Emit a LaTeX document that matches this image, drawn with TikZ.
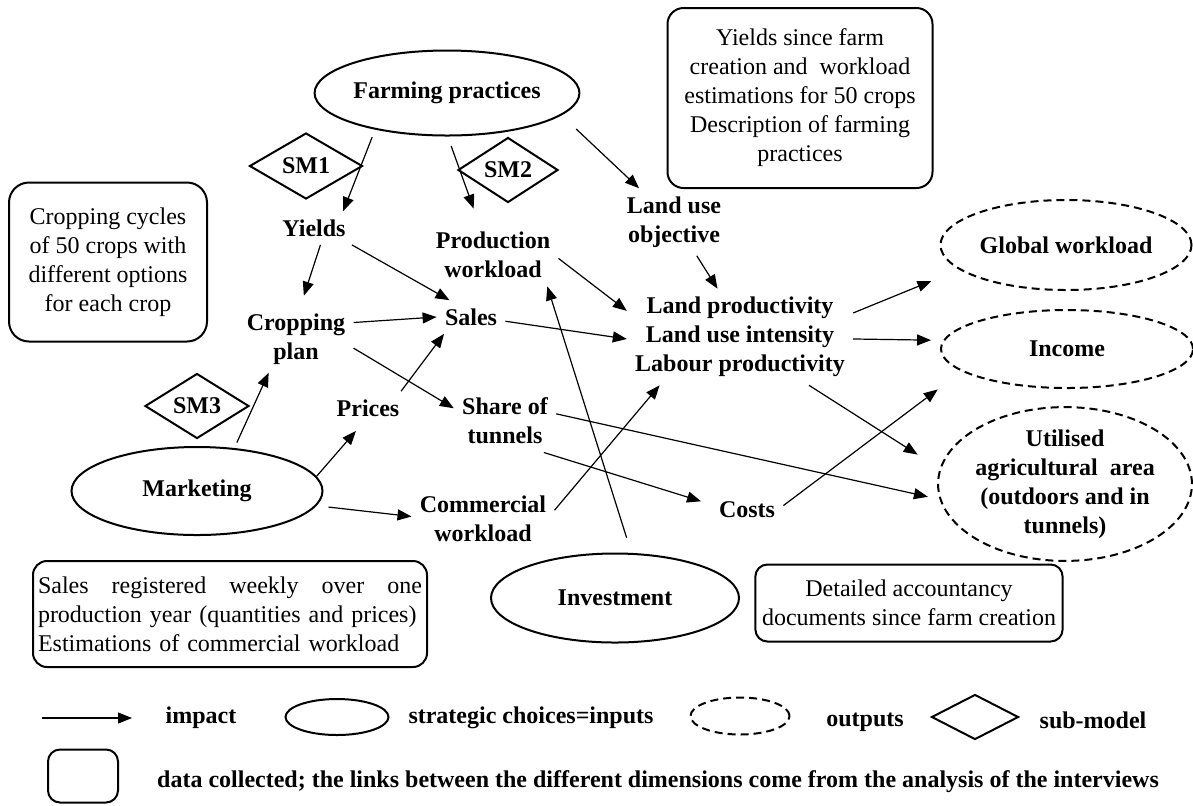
\documentclass[tikz,border=0pt]{standalone}
\usepackage{fontspec}
\setmainfont{Liberation Serif}
\usetikzlibrary{shapes.geometric,arrows.meta}

\begin{document}
\begin{tikzpicture}[x=0.5pt,y=-0.5pt,
	every node/.style={font=\fontsize{12}{14.5}\selectfont},
	lbl/.style={font=\fontsize{12}{14.5}\selectfont\bfseries, align=center, inner sep=4pt},
	choice/.style={ellipse, draw, line width=1pt, inner sep=0pt, font=\fontsize{12}{14.5}\selectfont\bfseries, align=center},
	outp/.style={choice, dash pattern=on 4pt off 2.5pt},
	submod/.style={diamond, draw, line width=1pt, inner sep=0pt, font=\fontsize{12}{14.5}\selectfont\bfseries},
	datab/.style={draw, line width=1pt, rounded corners=8pt, align=center},
	imp/.style={-{Triangle[length=7pt,width=5.5pt]}, line width=0.6pt}]
\useasboundingbox (0,0) rectangle (1193,805);

% strategic choices
\node[choice, minimum width=125pt, minimum height=42.5pt] (farm) at (447,93) {Farming practices};
\node[choice, minimum width=125.5pt, minimum height=44pt] (mkt) at (197,491) {Marketing};
\node[choice, minimum width=124pt, minimum height=44.5pt] (invest) at (615,598) {Investment};

% sub-models
\node[submod, minimum width=56.5pt, minimum height=33pt] (sm1) at (306,166) {SM1};
\node[submod, minimum width=50pt, minimum height=32.5pt] (sm2) at (508,170) {SM2};
\node[submod, minimum width=52pt, minimum height=32.5pt] (sm3) at (197,406) {SM3};

% intermediate variables
\node[lbl] (yields) at (314,228) {Yields};
\node[lbl] (prodwl) at (493,255) {Production\\workload};
\node[lbl] (sales) at (471,317) {Sales};
\node[lbl] (crop) at (296,339) {Cropping\\plan};
\node[lbl] (landuse) at (674,222) {Land use\\objective};
\node[lbl] (lp) at (740,337) {Land productivity\\Land use intensity\\Labour productivity};
\node[lbl] (prices) at (368,408) {Prices};
\node[lbl] (share) at (505,421) {Share of\\tunnels};
\node[lbl] (comwl) at (483,519) {Commercial\\workload};
\node[lbl] (costs) at (747,510) {Costs};

% outputs
\node[outp, minimum width=125.5pt, minimum height=45pt] (glob) at (1066,245) {Global workload};
\node[outp, minimum width=126pt, minimum height=39pt] (income) at (1067,349) {Income};
\node[outp, minimum width=125.5pt, minimum height=74pt] (uaa) at (1065,484) {Utilised\\agricultural~ area\\(outdoors and in\\tunnels)};

% data collected
\node[datab, rounded corners=10pt, minimum width=99pt, minimum height=79.5pt] (cycbox) at (108,262) {Cropping cycles\\of 50 crops with\\different options\\for each crop};
\node[datab, minimum width=132.5pt, minimum height=90pt] (yldbox) at (800,98) {Yields since farm\\creation and~ workload\\estimations for 50 crops\\Description of farming\\practices};
\node[datab, rounded corners=7pt, align=left, text width=192pt, inner sep=2.5pt, minimum height=53pt] (salbox) at (230,614)
	{\hbox to 192pt{Sales\hfill registered\hfill weekly\hfill over\hfill one}\\production year (quantities and prices)\\Estimations of commercial workload};
\node[datab, rounded corners=6pt, minimum width=153pt, minimum height=38.5pt] (accbox) at (909,603) {Detailed accountancy\\documents since farm creation};

% impacts
\draw[imp, shorten <=4pt] (farm.207) -- (yields.30);
\draw[imp, shorten <=5pt, shorten >=8pt] (farm.271) -- (prodwl.114);
\draw[imp, shorten <=10pt] (farm.349) -- (landuse.136.5);
\draw[imp, shorten >=5pt] (yields.291) -- (crop.82);
\draw[imp] (yields.336) -- (sales.142);
\draw[imp] (crop.16) -- (sales.180);
\draw[imp] (crop.351) -- (share.166);
\draw[imp] (prices.27) -- (sales.212);
\draw[imp, shorten <=3pt] (mkt.49) -- (crop.231);
\draw[imp, shorten >=4pt] (mkt.7) -- (prices.248);
\draw[imp, shorten <=6pt] (mkt.353) -- (comwl.178);
\draw[imp] (prodwl.357) -- (lp.167);
\draw[imp] (landuse.304) -- (lp.115);
\draw[imp] (sales.353) -- (lp.181);
\draw[imp, shorten <=8pt] (invest.70) -- (prodwl.330);
\draw[imp] (comwl.7) -- (lp.211);
\draw[imp, shorten >=5pt] (share.321) -- (costs.171.5);
\draw[imp, shorten >=6pt] (share.8) -- (uaa.187);
\draw[imp, shorten >=13pt] (lp.325) -- (uaa.173);
\draw[imp, shorten >=15pt] (costs.7) -- (income.192);
\draw[imp, shorten >=15pt] (lp.12) -- (glob.193);
\draw[imp, shorten >=6pt] (lp.359) -- (income.176);

% legend
\coordinate (legA) at (42,718);
\coordinate (legB) at (132,718);
\draw[imp] (legA) -- (legB);
\node[lbl] (legimp) at (201,718) {impact};
\node[choice, minimum width=51.5pt, minimum height=18pt] (legell) at (337,717) {};
\node[lbl] (legin) at (531,718) {strategic choices=inputs};
\node[outp, minimum width=49.5pt, minimum height=18.5pt] (legout) at (740,716) {};
\node[lbl] (legouttxt) at (865,722) {outputs};
\node[submod, minimum width=43.5pt, minimum height=22.5pt] (legsm) at (975,717) {};
\node[lbl] (legsmtxt) at (1093,720) {sub-model};
\node[datab, rounded corners=6pt, minimum width=35pt, minimum height=26.5pt] (legbox) at (83,776) {};
\node[lbl] (legdata) at (658,782) {data collected; the links between the different dimensions come from the analysis of the interviews};

\end{tikzpicture}
\end{document}
